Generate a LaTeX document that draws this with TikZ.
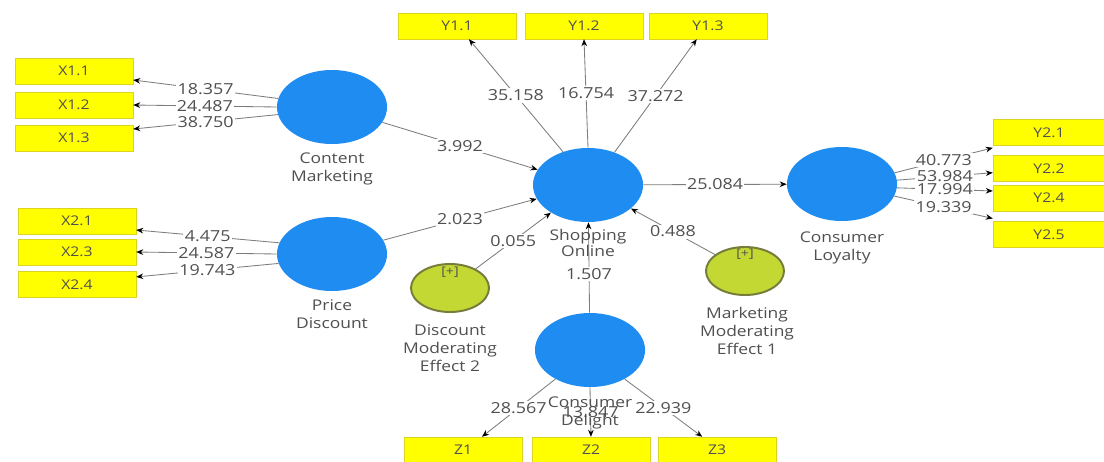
\documentclass[tikz,border=0pt]{standalone}
\usepackage{fontspec}
\setmainfont[FakeStretch=1.18]{Open Sans}
\usetikzlibrary{arrows.meta,shapes.geometric}
\definecolor{lvblue}{RGB}{30,140,240}
\definecolor{indyellow}{RGB}{255,255,0}
\definecolor{modgreen}{RGB}{196,216,52}
\definecolor{modedge}{RGB}{118,124,58}
\definecolor{txtgrey}{RGB}{80,80,80}
\definecolor{linegrey}{RGB}{125,125,125}

\begin{document}
\begin{tikzpicture}[x=0.025cm,y=-0.025cm]
    \tikzset{%
      latent/.style={ellipse, fill=lvblue, inner sep=0pt, minimum
        width=2.75cm, minimum height=1.85cm},
      moder/.style={ellipse, fill=modgreen, draw=modedge, line width=1.4pt,
        inner sep=0pt, minimum width=1.95cm, minimum height=1.2cm},
      ind/.style={rectangle, fill=indyellow, draw=yellow!85!black, line
        width=0.3pt, inner sep=0pt, minimum width=2.95cm, minimum
        height=0.65cm, text=txtgrey, font=\fontsize{9.5}{11}\selectfont},
      lab/.style={align=center, text=txtgrey, inner sep=0pt,
        font=\fontsize{10.5}{12.8}\selectfont},
      val/.style={fill=white, text=txtgrey, inner sep=1pt, pos=0.5,
        font=\fontsize{10.8}{12}\selectfont},
      arr/.style={draw=linegrey, line width=0.6pt,
        -{Stealth[length=5pt,width=4pt,color=black]}},
    }
    \useasboundingbox[fill=white] (0,0) rectangle (1104,461);
    % latent variables
    \node[latent] (CM) at (332,107) {};
    \node[latent] (PD) at (332,254) {};
    \node[latent] (SO) at (588,185) {};
    \node[latent] (CL) at (842,184) {};
    \node[latent] (CD) at (590,350) {};
    \node[moder] (DME) at (450,288) {};
    \node[moder] (MME) at (745,271) {};
    \node[text=txtgrey, font=\fontsize{8.5}{10}\selectfont] at (450,272) {[+]};
    \node[text=txtgrey, font=\fontsize{8.5}{10}\selectfont] at (745,254) {[+]};
    % indicators
    \node[ind] (X11) at (74,71) {X1.1};
    \node[ind] (X12) at (74,105) {X1.2};
    \node[ind] (X13) at (74,138) {X1.3};
    \node[ind] (X21) at (77,221) {X2.1};
    \node[ind] (X23) at (77,252) {X2.3};
    \node[ind] (X24) at (77,284.5) {X2.4};
    \node[ind] (Y11) at (457,26) {Y1.1};
    \node[ind] (Y12) at (584,26) {Y1.2};
    \node[ind] (Y13) at (708,26) {Y1.3};
    \node[ind, minimum width=2.8cm] (Y21) at (1049,132.5) {Y2.1};
    \node[ind, minimum width=2.8cm] (Y22) at (1049,168.5) {Y2.2};
    \node[ind, minimum width=2.8cm] (Y24) at (1049,198) {Y2.4};
    \node[ind, minimum width=2.8cm] (Y25) at (1049,234.5) {Y2.5};
    \node[ind] (Z1) at (463,450) {Z1};
    \node[ind] (Z2) at (591,450) {Z2};
    \node[ind] (Z3) at (717,450) {Z3};
    % outer loadings
    \draw[arr] (CM.171) -- ([yshift=3pt]X11.south east) node[val] {18.357};
    \draw[arr] (CM.180) -- (X12.east) node[val] {24.487};
    \draw[arr] (CM.188) -- ([yshift=-3pt]X13.north east) node[val] {38.750};
    \draw[arr] (PD.168) -- ([yshift=3pt]X21.south east) node[val] {4.475};
    \draw[arr] (PD.180) -- (X23.east) node[val] {24.587};
    \draw[arr] (PD.190) -- ([yshift=-4pt]X24.north east) node[val] {19.743};
    \draw[arr] (SO.127) -- ([xshift=8.5pt]Y11.south) node[val] {35.158};
    \draw[arr] (SO.90) -- (Y12.south) node[val] {16.754};
    \draw[arr] (SO.51) -- ([xshift=-8pt]Y13.south) node[val] {37.272};
    \draw[arr] (CL.12) -- ([yshift=-1.5pt]Y21.south west) node[val] {40.773};
    \draw[arr] (CL.4) -- ([yshift=-3pt]Y22.west) node[val] {53.984};
    \draw[arr] (CL.-4) -- ([yshift=5pt]Y24.west) node[val] {17.994};
    \draw[arr] (CL.-13) -- ([yshift=2pt]Y25.north west) node[val] {19.339};
    \draw[arr] (CD.220) -- ([xshift=13.5pt]Z1.north) node[val] {28.567};
    \draw[arr] (CD.270) -- (Z2.north) node[val] {13.847};
    \draw[arr] (CD.320) -- ([xshift=-10.5pt]Z3.north) node[val] {22.939};
    % path coefficients
    \draw[arr] (CM) -- (SO) node[val] {3.992};
    \draw[arr] (PD) -- (SO) node[val] {2.023};
    \draw[arr] (DME) -- (SO) node[val] {0.055};
    \draw[arr] (MME) -- (SO) node[val] {0.488};
    \draw[arr] (CD) -- (SO) node[val, pos=0.43] {1.507};
    \draw[arr] (SO) -- (CL) node[val] {25.084};
    % names
    \node[lab] (CMl) at (332,169) {Content\\Marketing};
    \node[lab] (PDl) at (332,314) {Price\\Discount};
    \node[lab, font=\fontsize{10.5}{11.8}\selectfont] (SOl) at (588,243) {Shopping\\Online};
    \node[lab] (CLl) at (842,248) {Consumer\\Loyalty};
    \node[lab] (DMEl) at (450,348) {Discount\\Moderating\\Effect 2};
    \node[lab] (MMEl) at (747,331) {Marketing\\Moderating\\Effect 1};
    \node[lab] (CDl) at (590,413) {Consumer\\Delight};
\end{tikzpicture}
\end{document}
